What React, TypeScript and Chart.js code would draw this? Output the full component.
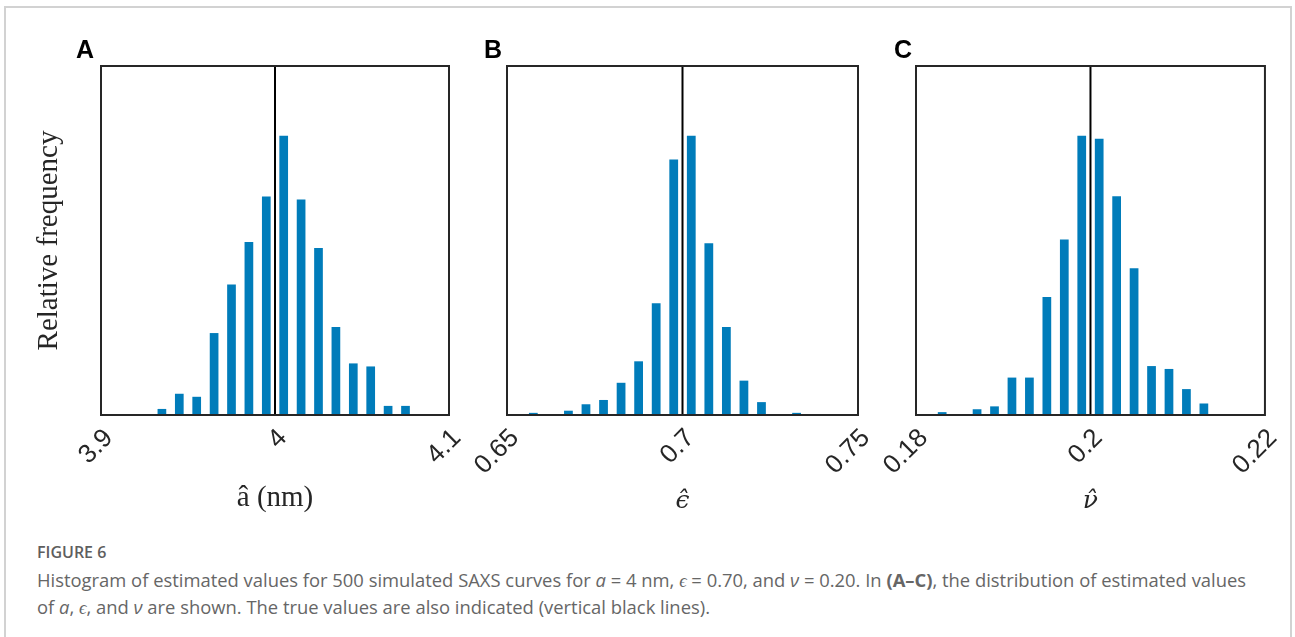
import React, { useEffect, useRef } from 'react';
import { Chart, registerables } from 'chart.js';
Chart.register(...registerables);

// ---------- data ----------
const binsA = [3.935, 3.945, 3.955, 3.965, 3.975, 3.985, 3.995, 4.005, 4.015, 4.025, 4.035, 4.045, 4.055, 4.065, 4.075];
const freqA = [0.004, 0.014, 0.012, 0.054, 0.086, 0.114, 0.144, 0.184, 0.142, 0.11, 0.058, 0.034, 0.032, 0.006, 0.006];
const ticksA = [3.9, 4.0, 4.1];
const tickLabelsA = ['3.9', '4', '4.1'];
const trueA = 4.0;

const binsB = [0.6575, 0.6625, 0.6675, 0.6725, 0.6775, 0.6825, 0.6875, 0.6925, 0.6975, 0.7025, 0.7075, 0.7125, 0.7175, 0.7225, 0.7275, 0.7325];
const freqB = [0.002, 0, 0.004, 0.01, 0.014, 0.03, 0.05, 0.104, 0.238, 0.26, 0.16, 0.082, 0.032, 0.012, 0, 0.002];
const ticksB = [0.65, 0.7, 0.75];
const tickLabelsB = ['0.65', '0.7', '0.75'];
const trueB = 0.7;

const binsC = [0.183, 0.185, 0.187, 0.189, 0.191, 0.193, 0.195, 0.197, 0.199, 0.201, 0.203, 0.205, 0.207, 0.209, 0.211, 0.213];
const freqC = [0.002, 0, 0.004, 0.006, 0.026, 0.026, 0.082, 0.122, 0.194, 0.192, 0.152, 0.102, 0.034, 0.032, 0.018, 0.008];
const ticksC = [0.18, 0.2, 0.22];
const tickLabelsC = ['0.18', '0.2', '0.22'];
const trueC = 0.2;

const panelLetters = ['A', 'B', 'C'];
const xTitles = ['\u00e2 (nm)', '\u03f5\u0302', '\u03bd\u0302'];
const yTitle = 'Relative frequency';

const BAR_COLOR = '#007CBA';
const AXIS_COLOR = '#262626';

const boxPlugin = {
  id: 'axesBox',
  afterDraw(chart: any) {
    const { ctx, chartArea: a } = chart;
    ctx.save();
    ctx.strokeStyle = AXIS_COLOR;
    ctx.lineWidth = 2;
    ctx.strokeRect(a.left, a.top, a.right - a.left, a.bottom - a.top);
    ctx.restore();
  },
};

type PanelSpec = {
  bins: number[];
  freq: number[];
  ticks: number[];
  tickLabels: string[];
  trueVal: number;
  xTitle: string;
  greek: boolean;
  showY: boolean;
  canvasLeft: number;
  canvasWidth: number;
  plotLeft: number;
  plotRight: number;
};

const CANVAS_H = 530;
const PLOT_TOP = 66;
const PLOT_BOTTOM = 415;

const panels: PanelSpec[] = [
  { bins: binsA, freq: freqA, ticks: ticksA, tickLabels: tickLabelsA, trueVal: trueA, xTitle: xTitles[0], greek: false, showY: true, canvasLeft: 0, canvasWidth: 480, plotLeft: 101, plotRight: 449 },
  { bins: binsB, freq: freqB, ticks: ticksB, tickLabels: tickLabelsB, trueVal: trueB, xTitle: xTitles[1], greek: true, showY: false, canvasLeft: 410, canvasWidth: 480, plotLeft: 507, plotRight: 858 },
  { bins: binsC, freq: freqC, ticks: ticksC, tickLabels: tickLabelsC, trueVal: trueC, xTitle: xTitles[2], greek: true, showY: false, canvasLeft: 820, canvasWidth: 475, plotLeft: 916, plotRight: 1267 },
];

function Panel({ p }: { p: PanelSpec }) {
  const ref = useRef<HTMLCanvasElement | null>(null);
  useEffect(() => {
    if (!ref.current) return;
    const yMax = Math.max(...p.freq) * 1.25;
    const chart = new Chart(ref.current, {
      type: 'bar',
      data: {
        datasets: [
          {
            type: 'line',
            data: [{ x: p.trueVal, y: 0 }, { x: p.trueVal, y: yMax }],
            borderColor: '#000000',
            borderWidth: 2,
            pointRadius: 0,
            order: 0,
          } as any,
          {
            type: 'bar',
            data: p.bins.map((b, i) => ({ x: b, y: p.freq[i] })),
            backgroundColor: BAR_COLOR,
            borderWidth: 0,
            barPercentage: 0.5,
            categoryPercentage: 1,
            order: 1,
          } as any,
        ],
      },
      options: {
        responsive: false,
        animation: false,
        events: [],
        layout: { padding: { top: PLOT_TOP, right: p.canvasLeft + p.canvasWidth - p.plotRight, bottom: 0, left: 0 } },
        plugins: { legend: { display: false }, tooltip: { enabled: false } },
        scales: {
          x: {
            type: 'linear',
            offset: false,
            min: p.ticks[0],
            max: p.ticks[p.ticks.length - 1],
            grid: { display: false, drawTicks: false, offset: false },
            border: { display: false },
            afterBuildTicks: (s: any) => {
              s.ticks = p.ticks.map((v) => ({ value: v }));
            },
            afterFit: (s: any) => {
              s.height = CANVAS_H - PLOT_BOTTOM;
            },
            ticks: {
              autoSkip: false,
              minRotation: 45,
              maxRotation: 45,
              padding: 8,
              labelOffset: 8,
              color: AXIS_COLOR,
              font: { family: 'Liberation Sans', size: 26 },
              callback: (_v: any, i: number) => p.tickLabels[i],
            },
            title: {
              display: true,
              text: p.xTitle,
              color: AXIS_COLOR,
              font: p.greek
                ? { family: 'DejaVu Serif', size: 25, style: 'italic' }
                : { family: 'Liberation Serif', size: 29, style: 'normal' },
              padding: { top: 0, bottom: 14 },
            },
          },
          y: {
            type: 'linear',
            min: 0,
            max: yMax,
            grid: { display: false, drawTicks: false },
            border: { display: false },
            ticks: { display: false },
            afterFit: (s: any) => {
              s.width = p.plotLeft - p.canvasLeft;
            },
            title: {
              display: p.showY,
              text: yTitle,
              color: AXIS_COLOR,
              font: { family: 'Liberation Serif', size: 29 },
              padding: { top: 32, bottom: 0 },
            },
          },
        },
      } as any,
      plugins: [boxPlugin],
    });
    return () => chart.destroy();
  }, [p]);
  return (
    <canvas
      ref={ref}
      width={p.canvasWidth}
      height={CANVAS_H}
      style={{ position: 'absolute', left: p.canvasLeft, top: 0, width: p.canvasWidth, height: CANVAS_H }}
    />
  );
}

const letterLefts = [76, 484, 894];

export default function App() {
  const captionColor = '#666666';
  return (
    <div style={{ position: 'absolute', left: 0, top: 0, width: 1295, height: 637, overflow: 'hidden', background: '#ffffff' }}>
      <div style={{ position: 'absolute', left: 4, top: 6, width: 1284, height: 720, border: '2px solid #d2d2d2', boxSizing: 'content-box' }} />
      {panels.map((p, i) => (
        <Panel key={i} p={p} />
      ))}
      {panelLetters.map((l, i) => (
        <div
          key={l}
          style={{ position: 'absolute', left: letterLefts[i], top: 37, fontFamily: 'Liberation Sans', fontWeight: 700, fontSize: 25, lineHeight: '25px', color: '#000' }}
        >
          {l}
        </div>
      ))}
      <div style={{ position: 'absolute', left: 37, top: 539, fontFamily: 'Open Sans', fontSize: 18.4, lineHeight: '27px', color: captionColor, whiteSpace: 'nowrap' }}>
        <div style={{ fontWeight: 600, color: '#5e5e5e', fontSize: 16 }}>FIGURE 6</div>
        <div>
          Histogram of estimated values for 500 simulated SAXS curves for <i>a</i> = 4 nm, <i>{'\u03f5'}</i> = 0.70, and <i>{'\u03bd'}</i> = 0.20. In <b>(A–C)</b>, the distribution of estimated values
        </div>
        <div>
          of <i>a</i>, <i>{'\u03f5'}</i>, and <i>{'\u03bd'}</i> are shown. The true values are also indicated (vertical black lines).
        </div>
      </div>
    </div>
  );
}
